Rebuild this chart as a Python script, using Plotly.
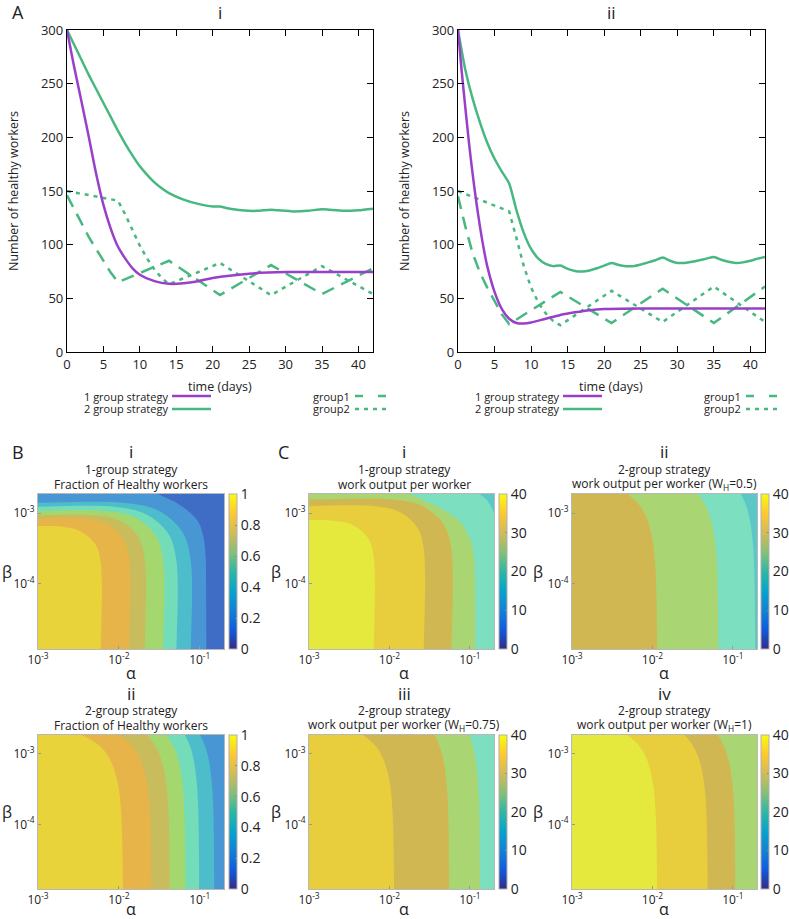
import plotly.graph_objects as go

W, H = 789, 919
FONT = "Open Sans"
PURPLE = "#9A3FC9"
GREEN = "#47B880"

# ---------------- Panel A data (number of healthy workers vs time) ----------------
Ai_t_one = [0, 1, 2, 3, 4, 5, 6, 7, 8, 9, 10, 12, 14, 16, 18, 20, 25, 30, 35, 42]
Ai_one = [300, 265, 233, 200, 166, 137, 115, 98, 87, 78, 72, 66, 63.5, 64, 66, 69, 73, 74.5, 74.5, 74.5]
Ai_t_two = [0, 1, 2, 3, 4, 5, 6, 7, 8, 9, 10, 11, 12, 13, 14, 16, 18, 20, 21, 22, 24, 26, 28, 29, 31, 33, 35, 36, 38, 40, 42]
Ai_two = [300, 286, 272, 258, 245, 232, 219, 206, 194, 183, 173, 165, 158, 152.5, 148, 142, 138, 135.5, 135.5, 134,
          132, 131.5, 132.5, 132, 131, 131.5, 133, 132.5, 131.5, 132, 133.5]
Ai_t_g1 = [0, 1, 2, 3, 4, 5, 6, 7, 14, 21, 28, 35, 42]
Ai_g1 = [146, 133, 120, 107, 96, 85, 74, 65, 85, 53, 81, 54, 78]
Ai_t_g2 = [0, 7, 8, 9, 10, 11, 12, 13, 14, 21, 28, 35, 42]
Ai_g2 = [150, 141, 128, 113, 99, 87, 77, 69, 63, 83, 53, 80, 54]

Aii_t_one = [0, 0.5, 1, 1.5, 2, 2.5, 3, 3.5, 4, 5, 6, 7, 8, 9, 10, 12, 14, 16, 18, 20, 25, 30, 42]
Aii_one = [300, 262, 228, 195, 166, 140, 117, 97, 80, 56, 40, 31, 27, 26.5, 27.5, 31, 34.5, 37, 39, 40, 40.5, 40.5, 40.5]
Aii_t_two = list(range(0, 43))
Aii_two = [300, 263, 236, 214, 195, 180, 168, 157, 132, 111, 96, 87, 82, 80, 80.5, 77.5, 75.5, 75, 76, 78, 80.5, 83,
           81, 80, 80, 81.5, 83.5, 85.5, 88, 85, 83, 83, 84, 85.5, 87, 88.5, 86, 84, 83, 83.5, 85, 87, 88.5]
Aii_t_g1 = [0, 1, 2, 3, 4, 5, 6, 7, 14, 21, 28, 35, 42]
Aii_g1 = [145, 117, 92, 74, 60, 47, 35, 26, 56, 27, 59, 27, 61]
Aii_t_g2 = [0, 7, 8, 9, 10, 11, 12, 13, 14, 21, 28, 35, 42]
Aii_g2 = [150, 131, 106, 80, 60, 46, 36, 29, 25, 57, 28, 61, 28]

x_ticks_days = [0, 5, 10, 15, 20, 25, 30, 35, 40]
y_ticks_workers = [0, 50, 100, 150, 200, 250, 300]

# ---------------- Panels B, C: contour boundaries (log10 alpha, log10 beta) ----------------
# each level: boundary of the region where value >= level (region lies lower-left of it)
Bi_base = 0.2
Bi = {
    0.3: [(-1.75, -2.60), (-1.517, -2.73), (-1.249, -2.881), (-1.022, -3.116), (-0.952, -3.352), (-0.928, -3.587), (-0.921, -4.0), (-0.919, -5.1)],
    0.4: [(-3.2, -2.857), (-1.913, -2.857), (-1.513, -2.964), (-1.220, -3.257), (-1.113, -3.657), (-1.113, -5.1)],
    0.5: [(-3.2, -2.914), (-2.04, -2.914), (-1.665, -3.015), (-1.39, -3.289), (-1.29, -3.664), (-1.29, -5.1)],
    0.6: [(-3.2, -2.975), (-2.135, -2.975), (-1.795, -3.066), (-1.546, -3.315), (-1.455, -3.655), (-1.455, -5.1)],
    0.7: [(-3.2, -3.031), (-2.282, -3.031), (-1.982, -3.111), (-1.762, -3.331), (-1.682, -3.631), (-1.682, -5.1)],
    0.8: [(-3.2, -3.078), (-2.425, -3.078), (-2.15, -3.152), (-1.949, -3.353), (-1.875, -3.628), (-1.875, -5.1)],
    0.9: [(-3.2, -3.19), (-2.725, -3.19), (-2.475, -3.257), (-2.292, -3.44), (-2.225, -3.69), (-2.225, -5.1)],
}
Bii_base = 0.3
Bii = {
    0.4: [(-1.044, -2.65), (-0.997, -2.73), (-0.931, -2.9), (-0.886, -3.1), (-0.852, -3.4), (-0.832, -3.8), (-0.819, -5.1)],
    0.5: [(-1.230, -2.65), (-1.183, -2.73), (-1.117, -2.9), (-1.072, -3.1), (-1.038, -3.4), (-1.018, -3.8), (-1.005, -5.1)],
    0.6: [(-1.478, -2.65), (-1.410, -2.73), (-1.319, -2.9), (-1.260, -3.1), (-1.216, -3.4), (-1.191, -3.8), (-1.175, -5.1)],
    0.7: [(-1.750, -2.65), (-1.658, -2.73), (-1.542, -2.9), (-1.470, -3.1), (-1.417, -3.4), (-1.387, -3.8), (-1.369, -5.1)],
    0.8: [(-2.140, -2.65), (-1.988, -2.73), (-1.819, -2.9), (-1.723, -3.1), (-1.655, -3.4), (-1.619, -3.8), (-1.596, -5.1)],
    0.9: [(-2.729, -2.65), (-2.463, -2.73), (-2.223, -2.9), (-2.100, -3.1), (-2.017, -3.4), (-1.973, -3.8), (-1.947, -5.1)],
}
Ci_base = 10
Ci = {
    15: [(-0.95, -2.62), (-0.878, -2.73), (-0.80, -2.80), (-0.74, -2.90), (-0.70, -3.0), (-0.66, -3.1), (-0.60, -3.35), (-0.55, -4.0), (-0.55, -5.1)],
    20: [(-2.0, -2.62), (-1.749, -2.73), (-1.376, -2.928), (-1.127, -3.116), (-1.003, -3.352), (-0.953, -3.587), (-0.936, -4.0), (-0.932, -5.1)],
    25: [(-3.2, -2.810), (-1.931, -2.810), (-1.581, -2.904), (-1.325, -3.160), (-1.231, -3.510), (-1.231, -5.1)],
    30: [(-3.2, -2.904), (-2.174, -2.904), (-1.874, -2.984), (-1.654, -3.204), (-1.574, -3.504), (-1.574, -5.1)],
    35: [(-3.2, -3.107), (-2.696, -3.107), (-2.446, -3.174), (-2.263, -3.357), (-2.196, -3.607), (-2.196, -5.1)],
}
Cii_base = 10
Cii = {
    15: [(-0.946, -2.65), (-0.90, -2.73), (-0.833, -2.9), (-0.788, -3.1), (-0.754, -3.4), (-0.734, -3.8), (-0.721, -5.1)],
    20: [(-1.588, -2.65), (-1.44, -2.73), (-1.337, -2.9), (-1.271, -3.1), (-1.222, -3.4), (-1.195, -3.8), (-1.178, -5.1)],
    25: [(-2.455, -2.65), (-2.314, -2.73), (-2.154, -2.9), (-2.062, -3.1), (-1.996, -3.4), (-1.961, -3.8), (-1.939, -5.1)],
}
Ciii_base = 15
Ciii = {
    20: [(-1.069, -2.65), (-1.009, -2.73), (-0.960, -2.9), (-0.926, -3.1), (-0.899, -3.4), (-0.883, -3.8), (-0.873, -5.1)],
    25: [(-1.533, -2.65), (-1.443, -2.73), (-1.374, -2.9), (-1.327, -3.1), (-1.291, -3.4), (-1.270, -3.8), (-1.257, -5.1)],
    30: [(-2.484, -2.65), (-2.331, -2.73), (-2.162, -2.9), (-2.066, -3.1), (-1.998, -3.4), (-1.962, -3.8), (-1.939, -5.1)],
}
Civ_base = 20
Civ = {
    25: [(-1.314, -2.65), (-1.195, -2.73), (-1.108, -2.9), (-1.051, -3.1), (-1.008, -3.4), (-0.983, -3.8), (-0.968, -5.1)],
    30: [(-1.790, -2.65), (-1.608, -2.73), (-1.488, -2.9), (-1.414, -3.1), (-1.360, -3.4), (-1.330, -3.8), (-1.311, -5.1)],
    35: [(-2.448, -2.65), (-2.310, -2.73), (-2.152, -2.9), (-2.061, -3.1), (-1.996, -3.4), (-1.961, -3.8), (-1.939, -5.1)],
}

alpha_ticks = [1e-3, 1e-2, 1e-1]
alpha_ticktext = ["10<sup>-3</sup>", "10<sup>-2</sup>", "10<sup>-1</sup>"]
beta_ticks = [1e-4, 1e-3]
beta_ticktext = ["10<sup>-4</sup>", "10<sup>-3</sup>"]
frac_ticks = [0, 0.2, 0.4, 0.6, 0.8, 1]
work_ticks = [0, 10, 20, 30, 40]

# ---------------- styles ----------------
B_COL = {0.2: "#3F6CC4", 0.3: "#4896D3", 0.4: "#4DBDCB", 0.5: "#72DDB8", 0.6: "#A5D76F",
         0.7: "#C9BC5D", 0.8: "#E6B448", 0.9: "#E8D33B"}
C_COL = {10: "#5DC7C7", 15: "#7BDFC0", 20: "#A9D672", 25: "#D1B752", 30: "#E8CD3D", 35: "#E5E83D"}
PARULA = [[0, "#352A87"], [0.125, "#0F5CDD"], [0.25, "#1481D6"], [0.375, "#06A4CA"], [0.5, "#2EB7A4"],
          [0.625, "#87BF77"], [0.75, "#D1BB59"], [0.875, "#FEC832"], [1, "#F9FB0E"]]


def fx(px):
    return px / W


def fy(py):
    return 1 - py / H


fig = go.Figure()
layout = {}


def axname(kind, n):
    return kind + ("axis" if n == 1 else f"axis{n}")


def ref(kind, n):
    return kind + ("" if n == 1 else str(n))


# ---------- line panels ----------
line_panels = [
    (1, (67, 373), (30, 352), Ai_t_one, Ai_one, Ai_t_two, Ai_two, Ai_t_g1, Ai_g1, Ai_t_g2, Ai_g2),
    (2, (458, 765), (30, 352), Aii_t_one, Aii_one, Aii_t_two, Aii_two, Aii_t_g1, Aii_g1, Aii_t_g2, Aii_g2),
]
for n, (x0, x1), (y0, y1), t1, v1, t2, v2, tg1, g1, tg2, g2 in line_panels:
    xa, ya = ref("x", n), ref("y", n)
    fig.add_trace(go.Scatter(x=tg1, y=g1, mode="lines", line=dict(color=GREEN, width=2.5, dash="13px,8px"),
                             xaxis=xa, yaxis=ya, showlegend=False, hoverinfo="skip"))
    fig.add_trace(go.Scatter(x=tg2, y=g2, mode="lines", line=dict(color=GREEN, width=2.5, dash="4px,5px"),
                             xaxis=xa, yaxis=ya, showlegend=False, hoverinfo="skip"))
    fig.add_trace(go.Scatter(x=t2, y=v2, mode="lines", line=dict(color=GREEN, width=2.5, shape="spline", smoothing=0.6),
                             xaxis=xa, yaxis=ya, showlegend=False, hoverinfo="skip"))
    fig.add_trace(go.Scatter(x=t1, y=v1, mode="lines", line=dict(color=PURPLE, width=2.5, shape="spline", smoothing=0.8),
                             xaxis=xa, yaxis=ya, showlegend=False, hoverinfo="skip"))
    common = dict(ticks="inside", ticklen=6, tickwidth=1, tickcolor="black", mirror="allticks", showline=True,
                  linecolor="black", linewidth=1.3, showgrid=False, zeroline=False,
                  tickfont=dict(size=13, color="#222"))
    layout[axname("x", n)] = dict(domain=[fx(x0), fx(x1)], range=[0, 42], anchor=ya, tickmode="array",
                                  tickvals=x_ticks_days, **common)
    layout[axname("y", n)] = dict(domain=[fy(y1), fy(y0)], range=[0, 300], anchor=xa, tickmode="array",
                                  tickvals=y_ticks_workers, **common)

# ---------- contour panels ----------
map_panels = [
    (3, (38, 224), (494, 649), Bi, Bi_base, B_COL, (0, 1), frac_ticks, 229),
    (4, (38, 224), (735, 889), Bii, Bii_base, B_COL, (0, 1), frac_ticks, 229),
    (5, (309, 494), (494, 649), Ci, Ci_base, C_COL, (0, 40), work_ticks, 499),
    (6, (572, 757), (494, 649), Cii, Cii_base, C_COL, (0, 40), work_ticks, 761),
    (7, (309, 494), (735, 889), Ciii, Ciii_base, C_COL, (0, 40), work_ticks, 499),
    (8, (572, 757), (735, 889), Civ, Civ_base, C_COL, (0, 40), work_ticks, 761),
]
for n, (x0, x1), (y0, y1), levels, base, cols, (cmin, cmax), cticks, cbx in map_panels:
    xa, ya = ref("x", n), ref("y", n)
    # background band
    fig.add_trace(go.Scatter(x=[10 ** -4.5, 1, 1, 10 ** -4.5], y=[10 ** -6.2, 10 ** -6.2, 10 ** -2, 10 ** -2],
                             mode="lines", line=dict(width=0), fill="toself", fillcolor=cols[base],
                             xaxis=xa, yaxis=ya, showlegend=False, hoverinfo="skip"))
    for lev in sorted(levels):
        pts = levels[lev]
        la = [p[0] for p in pts]
        lb = [p[1] for p in pts]
        xs = [-4.5] + la + [la[-1], -4.5]
        ys = [lb[0]] + lb + [lb[-1] - 1.0, lb[-1] - 1.0]
        fig.add_trace(go.Scatter(x=[10 ** v for v in xs], y=[10 ** v for v in ys], mode="lines",
                                 line=dict(width=0, shape="spline", smoothing=1.0), fill="toself",
                                 fillcolor=cols[lev], xaxis=xa, yaxis=ya, showlegend=False, hoverinfo="skip"))
    # colour bar
    fig.add_trace(go.Scatter(
        x=[1e-2], y=[1e-4], mode="markers", xaxis=xa, yaxis=ya, showlegend=False, hoverinfo="skip",
        marker=dict(size=1, opacity=0, color=[cmin], cmin=cmin, cmax=cmax, colorscale=PARULA, showscale=True,
                    colorbar=dict(x=fx(cbx), xanchor="left", xpad=0, ypad=0,
                                  y=fy((y0 + y1) / 2), yanchor="middle", len=(y1 - y0) / H, lenmode="fraction",
                                  thickness=8, thicknessmode="pixels", outlinewidth=1, outlinecolor="#b0b0b0",
                                  tickmode="array", tickvals=cticks, ticktext=[f"{v:g}" for v in cticks],
                                  ticks="inside", ticklen=2, tickcolor="#888",
                                  tickfont=dict(size=14, color="#222")))))
    common = dict(type="log", ticks="inside", ticklen=3, tickcolor="#999", showline=True, mirror=True,
                  linecolor="#b8b8b8", linewidth=1, showgrid=False, zeroline=False,
                  tickfont=dict(size=12, color="#222"), tickmode="array")
    layout[axname("x", n)] = dict(domain=[fx(x0), fx(x1)], range=[-3, -0.7], anchor=ya,
                                  tickvals=alpha_ticks, ticktext=alpha_ticktext, **common)
    layout[axname("y", n)] = dict(domain=[fy(y1), fy(y0)], range=[-4.92, -2.73], anchor=xa,
                                  tickvals=beta_ticks, ticktext=beta_ticktext, **common)

# ---------- annotations ----------
ann = []


def text(s, px, py, size=12, xanchor="center", angle=0):
    ann.append(dict(text=s, x=fx(px), y=fy(py), xref="paper", yref="paper", showarrow=False,
                    xanchor=xanchor, yanchor="middle", textangle=angle, font=dict(size=size, color="#222")))


text("A", 18, 12, 18)
text("i", 220, 12, 17)
text("ii", 611, 12, 17)
for xo in (0, 391):
    text("Number of healthy workers", 14 + xo, 191, 12.5, angle=-90)
    text("time (days)", 220 + xo, 386, 12.5)
    text("1 group strategy", 170 + xo, 396, 11, xanchor="right")
    text("2 group strategy", 170 + xo, 409, 11, xanchor="right")
    text("group1", 352 + xo, 396, 11, xanchor="right")
    text("group2", 352 + xo, 409, 11, xanchor="right")

text("B", 18, 452, 18)
text("C", 283, 452, 18)
titles = [
    (131, 452, "i", "1-group strategy", "Fraction of Healthy workers", 673),
    (131, 693, "ii", "2-group strategy", "Fraction of Healthy workers", 909),
    (404, 452, "i", "1-group strategy", "work output per worker", 673),
    (664, 452, "ii", "2-group strategy", "work output per worker (W<sub>H</sub>=0.5)", 673),
    (404, 693, "iii", "2-group strategy", "work output per worker (W<sub>H</sub>=0.75)", 909),
    (664, 693, "iv", "2-group strategy", "work output per worker (W<sub>H</sub>=1)", 909),
]
for cx, ty, r, l1, l2, ay in titles:
    text(r, cx, ty, 17)
    text(l1, cx, ty + 17, 12)
    text(l2, cx, ty + 32, 12)
    text("α", cx, ay, 16)
for bx, by in [(7, 572), (7, 812), (276, 572), (276, 812), (538, 572), (538, 812)]:
    text("β", bx, by, 16)

# ---------- legend samples ----------
shapes = []
for xo in (0, 391):
    shapes.append(dict(type="line", xref="paper", yref="paper", x0=fx(172 + xo), x1=fx(211 + xo),
                       y0=fy(396), y1=fy(396), line=dict(color=PURPLE, width=2.5)))
    shapes.append(dict(type="line", xref="paper", yref="paper", x0=fx(172 + xo), x1=fx(211 + xo),
                       y0=fy(409), y1=fy(409), line=dict(color=GREEN, width=2.5)))
    shapes.append(dict(type="line", xref="paper", yref="paper", x0=fx(355 + xo), x1=fx(387 + xo),
                       y0=fy(396), y1=fy(396), line=dict(color=GREEN, width=2.5, dash="8px,15px")))
    shapes.append(dict(type="line", xref="paper", yref="paper", x0=fx(355 + xo), x1=fx(387 + xo),
                       y0=fy(409), y1=fy(409), line=dict(color=GREEN, width=2.5, dash="4px,5px")))

fig.update_layout(width=W, height=H, margin=dict(l=0, r=0, t=0, b=0, autoexpand=False), paper_bgcolor="white",
                  plot_bgcolor="white", font=dict(family=FONT, color="#222"), annotations=ann, shapes=shapes,
                  showlegend=False, **layout)
fig.write_html("out.html", config={"displayModeBar": False},
               post_script="document.body.style.margin='0';document.body.style.overflow='hidden';")
